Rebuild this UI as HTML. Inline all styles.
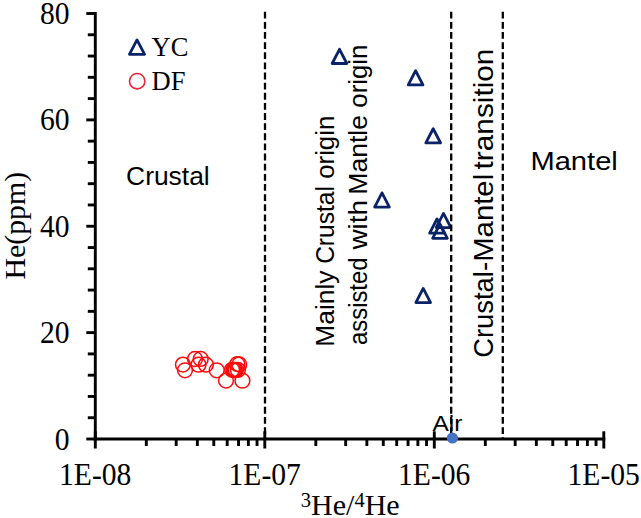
<!DOCTYPE html>
<html><head><meta charset="utf-8"><title>chart</title>
<style>html,body{margin:0;padding:0;background:#fff;}svg{display:block;}text{font-family:"Liberation Serif",serif;fill:#000;}.s{font-family:"Liberation Sans",sans-serif;}</style></head>
<body>
<svg width="641" height="518" viewBox="0 0 641 518">
<rect width="641" height="518" fill="#fff"/>
<g stroke="#000" stroke-width="2.9" fill="none">
<line x1="95.3" y1="12.05" x2="95.3" y2="440.45"/>
<line x1="93.85" y1="439.0" x2="605.25" y2="439.0"/>
<line x1="86.3" y1="439.00" x2="95.3" y2="439.00"/>
<line x1="87.8" y1="417.73" x2="95.3" y2="417.73"/>
<line x1="87.8" y1="396.45" x2="95.3" y2="396.45"/>
<line x1="87.8" y1="375.18" x2="95.3" y2="375.18"/>
<line x1="87.8" y1="353.90" x2="95.3" y2="353.90"/>
<line x1="86.3" y1="332.62" x2="95.3" y2="332.62"/>
<line x1="87.8" y1="311.35" x2="95.3" y2="311.35"/>
<line x1="87.8" y1="290.07" x2="95.3" y2="290.07"/>
<line x1="87.8" y1="268.80" x2="95.3" y2="268.80"/>
<line x1="87.8" y1="247.53" x2="95.3" y2="247.53"/>
<line x1="86.3" y1="226.25" x2="95.3" y2="226.25"/>
<line x1="87.8" y1="204.97" x2="95.3" y2="204.97"/>
<line x1="87.8" y1="183.70" x2="95.3" y2="183.70"/>
<line x1="87.8" y1="162.43" x2="95.3" y2="162.43"/>
<line x1="87.8" y1="141.15" x2="95.3" y2="141.15"/>
<line x1="86.3" y1="119.88" x2="95.3" y2="119.88"/>
<line x1="87.8" y1="98.60" x2="95.3" y2="98.60"/>
<line x1="87.8" y1="77.32" x2="95.3" y2="77.32"/>
<line x1="87.8" y1="56.05" x2="95.3" y2="56.05"/>
<line x1="87.8" y1="34.77" x2="95.3" y2="34.77"/>
<line x1="86.3" y1="13.50" x2="95.3" y2="13.50"/>
<line x1="95.30" y1="431.3" x2="95.30" y2="448.5"/>
<line x1="146.32" y1="439.0" x2="146.32" y2="446.0"/>
<line x1="176.17" y1="439.0" x2="176.17" y2="446.0"/>
<line x1="197.35" y1="439.0" x2="197.35" y2="446.0"/>
<line x1="213.78" y1="439.0" x2="213.78" y2="446.0"/>
<line x1="227.20" y1="439.0" x2="227.20" y2="446.0"/>
<line x1="238.54" y1="439.0" x2="238.54" y2="446.0"/>
<line x1="248.37" y1="439.0" x2="248.37" y2="446.0"/>
<line x1="257.04" y1="439.0" x2="257.04" y2="446.0"/>
<line x1="264.80" y1="431.3" x2="264.80" y2="448.5"/>
<line x1="315.82" y1="439.0" x2="315.82" y2="446.0"/>
<line x1="345.67" y1="439.0" x2="345.67" y2="446.0"/>
<line x1="366.85" y1="439.0" x2="366.85" y2="446.0"/>
<line x1="383.28" y1="439.0" x2="383.28" y2="446.0"/>
<line x1="396.70" y1="439.0" x2="396.70" y2="446.0"/>
<line x1="408.04" y1="439.0" x2="408.04" y2="446.0"/>
<line x1="417.87" y1="439.0" x2="417.87" y2="446.0"/>
<line x1="426.54" y1="439.0" x2="426.54" y2="446.0"/>
<line x1="434.30" y1="431.3" x2="434.30" y2="448.5"/>
<line x1="485.32" y1="439.0" x2="485.32" y2="446.0"/>
<line x1="515.17" y1="439.0" x2="515.17" y2="446.0"/>
<line x1="536.35" y1="439.0" x2="536.35" y2="446.0"/>
<line x1="552.78" y1="439.0" x2="552.78" y2="446.0"/>
<line x1="566.20" y1="439.0" x2="566.20" y2="446.0"/>
<line x1="577.54" y1="439.0" x2="577.54" y2="446.0"/>
<line x1="587.37" y1="439.0" x2="587.37" y2="446.0"/>
<line x1="596.04" y1="439.0" x2="596.04" y2="446.0"/>
<line x1="603.80" y1="431.3" x2="603.80" y2="448.5"/>
</g>
<text transform="translate(69.5,449.60) scale(1,1.1)" font-size="29.6" text-anchor="end">0</text>
<text transform="translate(69.5,343.23) scale(1,1.1)" font-size="29.6" text-anchor="end">20</text>
<text transform="translate(69.5,236.85) scale(1,1.1)" font-size="29.6" text-anchor="end">40</text>
<text transform="translate(69.5,130.47) scale(1,1.1)" font-size="29.6" text-anchor="end">60</text>
<text transform="translate(69.5,24.10) scale(1,1.1)" font-size="29.6" text-anchor="end">80</text>
<text transform="translate(95.20,485.2) scale(1,1.1)" font-size="29.6" text-anchor="middle">1E-08</text>
<text transform="translate(264.70,485.2) scale(1,1.1)" font-size="29.6" text-anchor="middle">1E-07</text>
<text transform="translate(434.20,485.2) scale(1,1.1)" font-size="29.6" text-anchor="middle">1E-06</text>
<text transform="translate(603.70,485.2) scale(1,1.1)" font-size="29.6" text-anchor="middle">1E-05</text>
<text transform="translate(25.0,225.7) rotate(-90)" font-size="29.8" text-anchor="middle">He(ppm)</text>
<text x="300.8" y="515" font-size="30"><tspan font-size="20.5" dy="-8.3">3</tspan><tspan dy="8.3">He/</tspan><tspan font-size="20.5" dy="-8.3">4</tspan><tspan dy="8.3">He</tspan></text>
<text class="s" x="126.06" y="185.2" font-size="25.5" textLength="83.71" lengthAdjust="spacingAndGlyphs">Crustal</text>
<text class="s" x="530.41" y="169.6" font-size="25.5" textLength="87.44" lengthAdjust="spacingAndGlyphs">Mantel</text>
<text class="s" x="432.45" y="431.2" font-size="22.6" textLength="29.95" lengthAdjust="spacingAndGlyphs">Air</text>
<text class="s" transform="translate(334.4,344.60) rotate(-90)" x="-2.17" y="0" font-size="25.2" textLength="76.32" lengthAdjust="spacingAndGlyphs">Mainly</text>
<text class="s" transform="translate(334.4,262.60) rotate(-90)" x="-1.25" y="0" font-size="25.2" textLength="77.69" lengthAdjust="spacingAndGlyphs">Crustal</text>
<text class="s" transform="translate(334.4,177.70) rotate(-90)" x="-1.08" y="0" font-size="25.2" textLength="63.06" lengthAdjust="spacingAndGlyphs">origin</text>
<text class="s" transform="translate(367.4,343.90) rotate(-90)" x="-1.01" y="0" font-size="25.2" textLength="87.35" lengthAdjust="spacingAndGlyphs">assisted</text>
<text class="s" transform="translate(367.4,249.60) rotate(-90)" x="0.04" y="0" font-size="25.2" textLength="49.67" lengthAdjust="spacingAndGlyphs">with</text>
<text class="s" transform="translate(367.4,192.50) rotate(-90)" x="-2.18" y="0" font-size="25.2" textLength="79.66" lengthAdjust="spacingAndGlyphs">Mantle</text>
<text class="s" transform="translate(367.4,106.60) rotate(-90)" x="-1.08" y="0" font-size="25.2" textLength="63.06" lengthAdjust="spacingAndGlyphs">origin</text>
<text class="s" transform="translate(493.2,356.40) rotate(-90)" x="-1.39" y="0" font-size="28.0" textLength="86.51" lengthAdjust="spacingAndGlyphs">Crustal</text>
<text class="s" transform="translate(493.2,269.70) rotate(-90)" x="-1.24" y="0" font-size="28.0" textLength="9.28" lengthAdjust="spacingAndGlyphs">-</text>
<text class="s" transform="translate(493.2,259.40) rotate(-90)" x="-2.40" y="0" font-size="28.0" textLength="87.96" lengthAdjust="spacingAndGlyphs">Mantel</text>
<text class="s" transform="translate(493.2,169.00) rotate(-90)" x="-0.45" y="0" font-size="28.0" textLength="120.89" lengthAdjust="spacingAndGlyphs">transition</text>
<text x="151.5" y="56" font-size="26.5">YC</text>
<text x="151.5" y="89.5" font-size="26.5">DF</text>
<path d="M137.00 39.90 L144.60 54.30 L129.40 54.30 Z" fill="none" stroke="#0a2268" stroke-width="2.8" stroke-linejoin="round"/>
<circle cx="137.2" cy="81.2" r="7.7" fill="none" stroke="#e8283a" stroke-width="1.6"/>
<path d="M339.50 49.30 L346.85 63.50 L332.15 63.50 Z" fill="none" stroke="#0a2268" stroke-width="2.8" stroke-linejoin="round"/>
<path d="M415.60 70.75 L422.95 84.95 L408.25 84.95 Z" fill="none" stroke="#0a2268" stroke-width="2.8" stroke-linejoin="round"/>
<path d="M433.20 128.75 L440.55 142.95 L425.85 142.95 Z" fill="none" stroke="#0a2268" stroke-width="2.8" stroke-linejoin="round"/>
<path d="M382.00 192.85 L389.35 207.05 L374.65 207.05 Z" fill="none" stroke="#0a2268" stroke-width="2.8" stroke-linejoin="round"/>
<path d="M443.50 213.40 L450.85 227.60 L436.15 227.60 Z" fill="none" stroke="#0a2268" stroke-width="2.8" stroke-linejoin="round"/>
<path d="M437.00 219.00 L444.35 233.20 L429.65 233.20 Z" fill="none" stroke="#0a2268" stroke-width="2.8" stroke-linejoin="round"/>
<path d="M440.00 224.10 L447.35 238.30 L432.65 238.30 Z" fill="none" stroke="#0a2268" stroke-width="2.8" stroke-linejoin="round"/>
<path d="M423.20 288.40 L430.55 302.60 L415.85 302.60 Z" fill="none" stroke="#0a2268" stroke-width="2.8" stroke-linejoin="round"/>
<g fill="none" stroke="#ff0a0a" stroke-width="1.5">
<circle cx="182.9" cy="364.6" r="7.4"/>
<circle cx="185.0" cy="370.3" r="7.4"/>
<circle cx="195" cy="359.0" r="7.4"/>
<circle cx="200.7" cy="358.9" r="7.4"/>
<circle cx="198.5" cy="364.7" r="7.4"/>
<circle cx="205.9" cy="364.7" r="7.4"/>
<circle cx="216.7" cy="370.3" r="7.4"/>
<circle cx="226.0" cy="380.6" r="7.4"/>
<circle cx="242.4" cy="380.7" r="7.4"/>
<circle cx="232.1" cy="369.8" r="7.4"/>
<circle cx="233.5" cy="369.8" r="7.4"/>
<circle cx="234.6" cy="369.9" r="7.4"/>
<circle cx="235.8" cy="369.9" r="7.4"/>
<circle cx="237.9" cy="369.9" r="7.4"/>
<circle cx="237.3" cy="364.1" r="7.4"/>
<circle cx="239.2" cy="364.4" r="7.4"/>
</g>
<line x1="265.0" y1="11.8" x2="265.0" y2="438" stroke="#000" stroke-width="2.3" stroke-dasharray="6.8 3.33"/>
<line x1="451.2" y1="11.8" x2="451.2" y2="438" stroke="#000" stroke-width="2.3" stroke-dasharray="6.8 3.33"/>
<line x1="502.8" y1="11.8" x2="502.8" y2="438" stroke="#000" stroke-width="2.3" stroke-dasharray="6.8 3.33"/>
<circle cx="452.4" cy="438" r="5.6" fill="#4472c4"/>
</svg>
</body></html>
